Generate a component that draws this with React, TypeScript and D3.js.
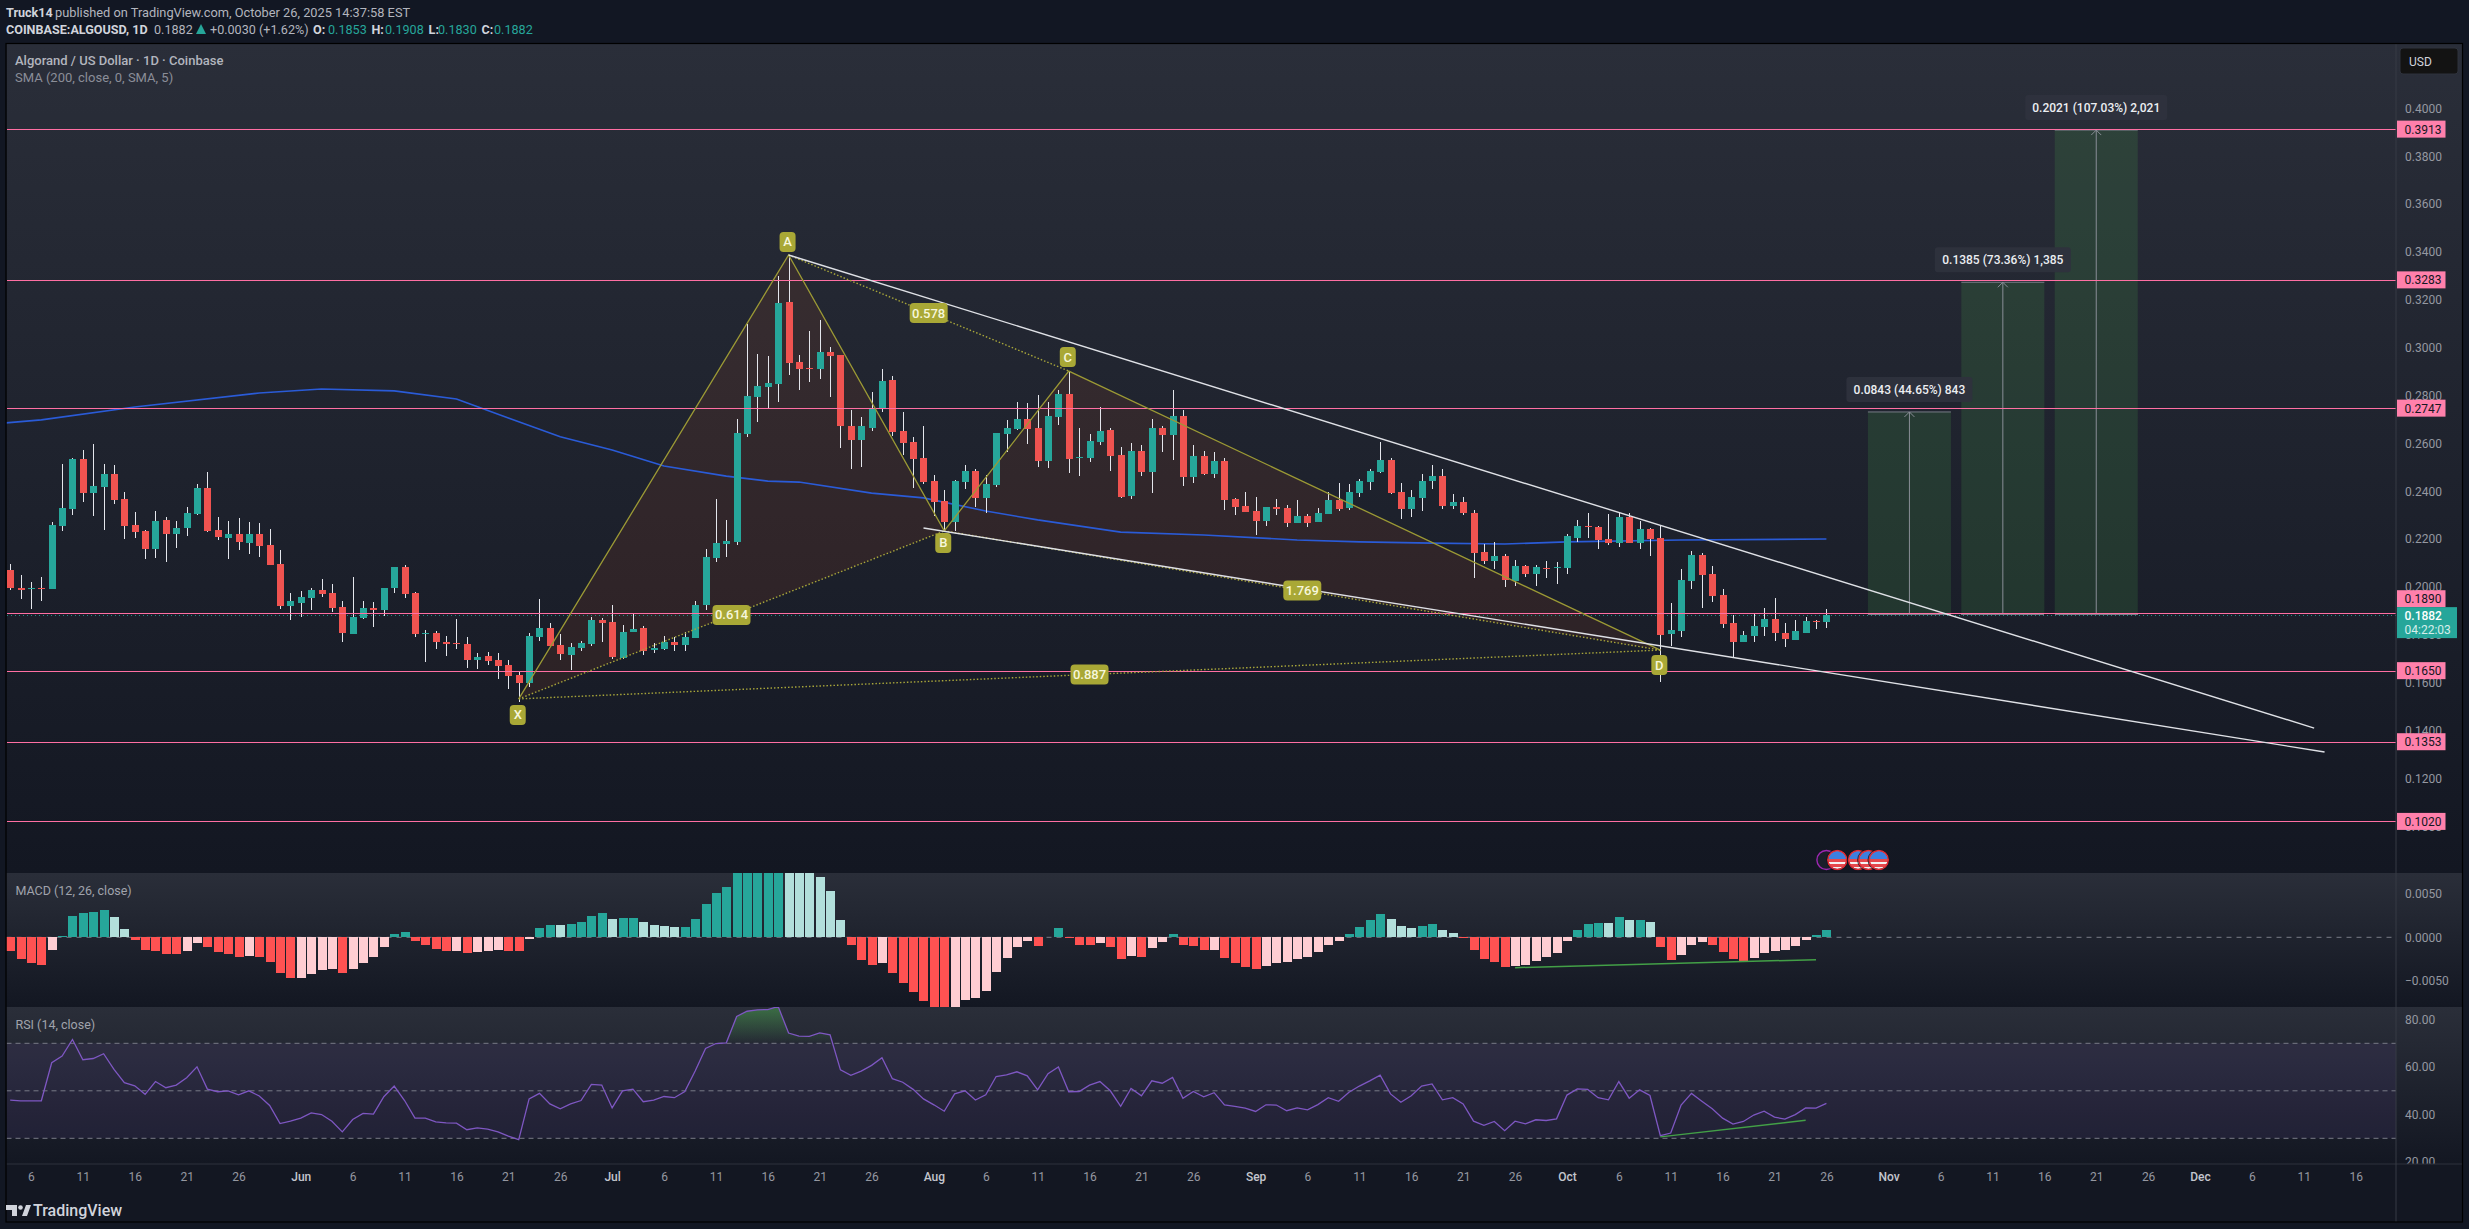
import React, { useEffect, useRef } from 'react';
import * as d3 from 'd3';

// daily candles, May 4 to Oct 26 2025
const opens = [
  .2071,.1996,.1991,.1995,.1991,.2254,.2325,.2534,.2392,.2417,
  .2472,.2367,.2259,.2234,.2158,.2279,.2221,.2246,.2305,.2413,
  .2238,.2204,.2221,.2183,.2221,.2175,.2096,.1920,.1933,.1954,
  .1987,.1974,.1916,.1803,.1870,.1912,.1903,.1995,.2083,.1974,
  .1803,.1807,.1770,.1765,.1761,.1694,.1711,.1694,.1674,.1632,
  .1598,.1791,.1828,.1757,.1715,.1745,.1761,.1862,.1853,.1703,
  .1811,.1828,.1736,.1740,.1770,.1757,.1786,.1924,.2121,.2179,
  .2188,.2639,.2794,.2835,.2848,.3191,.2940,.2915,.2911,.2982,
  .2969,.2672,.2614,.2664,.2743,.2865,.2652,.2606,.2539,.2443,
  .2359,.2271,.2438,.2484,.2372,.2426,.2639,.2660,.2702,.2664,
  .2526,.2710,.2806,.2539,.2539,.2606,.2656,.2551,.2380,.2568,
  .2480,.2664,.2635,.2714,.2459,.2547,.2472,.2526,.2367,.2338,
  .2317,.2275,.2334,.2330,.2267,.2296,.2271,.2305,.2363,.2330,
  .2393,.2438,.2480,.2530,.2397,.2325,.2372,.2443,.2463,.2338,
  .2355,.2309,.2146,.2108,.2129,.2025,.2087,.2054,.2079,.2079,
  .2079,.2204,.2255,.2250,.2200,.2183,.2292,.2183,.2242,.2204,
  .1803,.1816,.2025,.2133,.2054,.1966,.1849,.1770,.1795,.1833,
  .1866,.1807,.1778,.1807,.1857,.1853,
];
const highs = [
  .2096,.2050,.2020,.2041,.2271,.2514,.2539,.2572,.2597,.2514,
  .2509,.2397,.2313,.2238,.2317,.2292,.2275,.2334,.2430,.2480,
  .2292,.2275,.2288,.2271,.2267,.2242,.2154,.1974,.1983,.1995,
  .2033,.2012,.1941,.2041,.1941,.1937,.1996,.2083,.2091,.1979,
  .1820,.1816,.1795,.1866,.1791,.1724,.1728,.1724,.1694,.1648,
  .1807,.1949,.1849,.1803,.1765,.1774,.1874,.1870,.1924,.1841,
  .1887,.1837,.1765,.1795,.1791,.1811,.1941,.2158,.2367,.2279,
  .2702,.3099,.2973,.2965,.3299,.3387,.2969,.3069,.3115,.3003,
  .2969,.2739,.2710,.2814,.2911,.2881,.2731,.2626,.2672,.2468,
  .2405,.2447,.2510,.2493,.2468,.2643,.2697,.2773,.2768,.2802,
  .2773,.2823,.2902,.2664,.2639,.2752,.2664,.2585,.2601,.2593,
  .2702,.2672,.2823,.2739,.2593,.2568,.2564,.2539,.2372,.2397,
  .2376,.2334,.2367,.2342,.2363,.2305,.2330,.2397,.2434,.2430,
  .2451,.2493,.2605,.2539,.2434,.2405,.2472,.2510,.2493,.2388,
  .2376,.2321,.2179,.2188,.2137,.2112,.2091,.2091,.2108,.2104,
  .2221,.2280,.2309,.2255,.2305,.2313,.2309,.2275,.2246,.2255,
  .1933,.2075,.2150,.2142,.2087,.1991,.1883,.1816,.1887,.1912,
  .1954,.1849,.1862,.1874,.1862,.1908,
];
const lows = [
  .1987,.1949,.1908,.1941,.1991,.2234,.2300,.2355,.2296,.2238,
  .2346,.2200,.2204,.2117,.2121,.2104,.2162,.2213,.2300,.2229,
  .2196,.2117,.2154,.2137,.2125,.2091,.1908,.1862,.1874,.1903,
  .1958,.1895,.1770,.1803,.1866,.1832,.1878,.1974,.1954,.1791,
  .1686,.1740,.1711,.1740,.1661,.1657,.1674,.1615,.1573,.1519,
  .1582,.1774,.1753,.1694,.1653,.1732,.1753,.1770,.1699,.1699,
  .1811,.1715,.1724,.1736,.1732,.1732,.1786,.1903,.2104,.2125,
  .2175,.2628,.2689,.2743,.2773,.2886,.2823,.2856,.2869,.2794,
  .2580,.2493,.2501,.2652,.2731,.2631,.2551,.2413,.2430,.2296,
  .2234,.2234,.2409,.2334,.2309,.2418,.2564,.2656,.2597,.2501,
  .2497,.2677,.2476,.2463,.2522,.2593,.2484,.2372,.2367,.2463,
  .2392,.2564,.2530,.2422,.2434,.2468,.2455,.2321,.2301,.2313,
  .2217,.2254,.2301,.2250,.2267,.2250,.2271,.2305,.2317,.2321,
  .2376,.2405,.2476,.2388,.2284,.2292,.2317,.2409,.2325,.2325,
  .2301,.2037,.2096,.2075,.1999,.2004,.2041,.2004,.2037,.2012,
  .2054,.2188,.2204,.2158,.2175,.2167,.2183,.2158,.2129,.1603,
  .1753,.1791,.1991,.1912,.1937,.1828,.1703,.1770,.1770,.1795,
  .1774,.1749,.1778,.1807,.1824,.1830,
];
const closes = [
  .1995,.1987,.1994,.1991,.2259,.2330,.2534,.2392,.2422,.2472,
  .2363,.2254,.2229,.2158,.2275,.2221,.2246,.2309,.2413,.2234,
  .2208,.2221,.2188,.2221,.2171,.2091,.1920,.1941,.1958,.1987,
  .1970,.1912,.1807,.1874,.1912,.1903,.1996,.2083,.1970,.1803,
  .1807,.1770,.1761,.1761,.1694,.1707,.1690,.1669,.1628,.1598,
  .1795,.1828,.1753,.1720,.1749,.1765,.1862,.1849,.1707,.1811,
  .1824,.1732,.1745,.1770,.1757,.1791,.1924,.2125,.2183,.2192,
  .2643,.2798,.2840,.2852,.3186,.2936,.2911,.2911,.2982,.2965,
  .2672,.2614,.2672,.2748,.2860,.2647,.2601,.2534,.2438,.2355,
  .2271,.2443,.2484,.2372,.2430,.2643,.2664,.2702,.2660,.2526,
  .2714,.2806,.2534,.2543,.2610,.2652,.2547,.2376,.2568,.2480,
  .2664,.2635,.2714,.2459,.2547,.2472,.2526,.2363,.2334,.2313,
  .2275,.2334,.2325,.2267,.2296,.2267,.2309,.2363,.2325,.2397,
  .2443,.2484,.2530,.2393,.2325,.2376,.2443,.2463,.2338,.2355,
  .2309,.2142,.2108,.2129,.2029,.2087,.2054,.2083,.2075,.2083,
  .2213,.2255,.2250,.2196,.2183,.2292,.2183,.2242,.2200,.1799,
  .1820,.2029,.2133,.2050,.1962,.1845,.1770,.1799,.1837,.1866,
  .1807,.1782,.1816,.1857,.1853,.1882,
];

const macdHist = [
  -.00153,-.00249,-.00295,-.00318,-.00146,.00015,.00245,.0028,.00291,.00314,
  .00234,.00096,-.00031,-.00146,-.00157,-.00192,-.00195,-.00157,-.00065,-.00111,
  -.00169,-.00192,-.00226,-.00214,-.00226,-.00283,-.0041,-.00467,-.00467,-.00421,
  -.00375,-.00364,-.0041,-.00364,-.00295,-.00226,-.00111,.00038,.00061,-.00042,
  -.00088,-.00134,-.00157,-.00157,-.0018,-.00169,-.00157,-.00146,-.00157,-.00161,
  -.00019,.00107,.00142,.00142,.00153,.00176,.00245,.0028,.00211,.00222,
  .00226,.00176,.00142,.0013,.00119,.00123,.00211,.00383,.00509,.00578,
  .00766,.00804,.00823,.00835,.00843,.00823,.00797,.00758,.00693,.00532,
  .00199,-.00088,-.0026,-.00318,-.00295,-.0041,-.00525,-.00628,-.00732,-.00843,
  -.00889,-.00835,-.0072,-.00697,-.00617,-.00398,-.00237,-.00111,-.00042,-.001,
  .00004,.00107,-.00008,-.00088,-.00092,-.00065,-.00111,-.00249,-.00214,-.00226,
  -.00123,-.00054,.00038,-.00088,-.001,-.00146,-.00146,-.00237,-.00295,-.00341,
  -.00364,-.00329,-.00295,-.00283,-.00249,-.00226,-.00169,-.00088,-.00042,.00038,
  .00119,.00199,.00268,.00211,.0013,.00107,.0013,.00153,.00084,.0005,
  -.00008,-.00146,-.00249,-.00283,-.00341,-.00329,-.00318,-.00272,-.00226,-.0018,
  -.00042,.00084,.00153,.00165,.00165,.00234,.00199,.00203,.00176,-.00111,
  -.0026,-.00203,-.00088,-.00054,-.00088,-.00169,-.00249,-.00272,-.00237,-.0018,
  -.00157,-.00146,-.001,-.00031,.00027,.00084,
];

const rsiValues = [
  46.1,45.8,45.8,45.8,61.8,64.6,71.6,63.1,63.6,65.6,
  59.0,53.4,52.1,48.5,53.9,51.3,52.4,55.5,60.1,50.7,
  49.6,50.0,48.3,50.0,47.8,43.8,36.2,37.2,38.5,40.7,
  40.0,37.2,32.7,37.9,40.5,40.2,47.5,52.0,45.9,38.5,
  38.5,36.9,36.5,36.4,33.6,34.4,33.9,32.7,30.9,29.4,
  46.6,48.9,44.5,42.4,44.5,45.9,52.7,52.4,42.8,50.0,
  50.7,45.4,46.1,47.6,47.1,49.7,58.3,67.8,69.9,70.2,
  81.3,83.5,84.1,84.2,85.5,74.3,73.0,72.9,74.4,73.6,
  58.8,56.5,58.3,60.7,63.9,55.1,53.6,50.6,46.6,44.1,
  41.4,48.7,50.0,46.1,48.3,56.0,56.7,58.0,56.3,50.4,
  57.2,60.0,49.6,49.7,52.4,53.9,50.0,43.5,51.0,47.9,
  54.2,53.2,55.6,46.8,49.7,47.5,49.2,44.1,43.4,42.7,
  41.3,44.1,44.0,41.6,42.8,42.0,44.2,47.1,45.6,49.4,
  52.0,54.2,56.6,48.7,45.2,47.9,52.0,52.9,46.2,47.1,
  44.5,37.2,35.5,37.1,33.2,37.2,36.1,37.8,37.5,38.2,
  48.2,50.8,50.6,47.1,46.2,53.9,46.9,50.4,48.0,31.1,
  32.2,44.0,48.9,45.6,42.4,38.5,36.0,37.1,39.8,41.4,
  38.9,38.1,40.0,42.8,42.7,44.7,
];

// SMA 200 read at a number of days along the line
const smaDays = [-1,3,12,24,30,37,43,48,53,58,63,69,73,76,83,88,94,99,107,115,124,130,137,144,150,161,175];
const smaValues = [.2683,.2698,.2752,.2810,.2827,.2819,.2785,.2706,.2627,.2572,.2505,.2463,.2442,.2438,.2392,.2372,.2317,.2280,.2229,.2217,.2196,.2188,.2183,.2179,.2188,.2196,.2200];

const levels = [0.3913, 0.3283, 0.2747, 0.1890, 0.1650, 0.1353, 0.1020];
const priceTicks = [.4,.38,.36,.34,.32,.3,.28,.26,.24,.22,.2,.18,.16,.14,.12,.1];
const macdTicks = [0.005, 0, -0.005];
const rsiTicks = [80, 60, 40, 20];
const rsiBands = [70, 50, 30];

const dayTicks = [2,7,12,17,22,28,33,38,43,48,53,58,63,68,73,78,83,89,94,99,104,109,114,120,125,130,135,140,145,150,155,160,165,170,175,181,186,191,196,201,206,211,216,221,226];
const dayLabels = ['6','11','16','21','26','Jun','6','11','16','21','26','Jul','6','11','16','21','26','Aug','6','11','16','21','26','Sep','6','11','16','21','26','Oct','6','11','16','21','26','Nov','6','11','16','21','26','Dec','6','11','16'];
const monthLabels = ['Jun', 'Jul', 'Aug', 'Sep', 'Oct', 'Nov', 'Dec'];

// XABCD pattern
const patternNames = ['X', 'A', 'B', 'C', 'D'];
const patternDays = [49, 75, 90, 102, 159];
const patternPrices = [.1532, .3387, .2234, .2902, .1736];

// wedge trend lines
const upperLineDays = [75, 222];
const upperLinePrices = [.3387, .1410];
const lowerLineDays = [88, 223];
const lowerLinePrices = [.2246, .1310];

// long position boxes
const entryPrice = 0.1888;
const boxFrom = [179, 188, 197];
const boxTo = [187, 196, 205];
const boxTargets = [.2731, .3273, .3909];
const boxLabels = ['0.0843 (44.65%) 843', '0.1385 (73.36%) 1,385', '0.2021 (107.03%) 2,021'];

const macdDivDays = [145, 174];
const macdDivValues = [-.00349, -.00257];
const rsiDivDays = [159, 173];
const rsiDivValues = [30.6, 37.6];

const newsDays = [175, 176, 178, 179, 180];

const FONT = 'Roboto, sans-serif';
const TEAL = '#26a69a';
const RED = '#ef5350';
const PINK = '#ff6fa3';

const App: React.FC = () => {
  const ref = useRef<SVGSVGElement | null>(null);

  useEffect(() => {
    const width = 2469;
    const height = 1229;
    const left = 6.5;
    const axisX = 2396;
    const rightEdge = 2462;

    const svg = d3.select(ref.current)
      .attr('width', width)
      .attr('height', height)
      .style('display', 'block')
      .style('position', 'absolute')
      .style('left', 0)
      .style('top', 0)
      .style('background', '#121723')
      .style('font-family', FONT);
    svg.selectAll('*').remove();

    const defs = svg.append('defs');

    const x = d3.scaleLinear().domain([0, 175]).range([10.2, 1826.4]);
    const y = d3.scaleLinear().domain([0.4, 0.102]).range([108.3, 821.4]);
    const macdY = d3.scaleLinear().domain([0.005, -0.005]).range([893.8, 980.8]);
    const rsiY = d3.scaleLinear().domain([70, 30]).range([1043.3, 1138.3]);

    // panes: [top, bottom]
    const panes = [[44, 873], [873, 1007], [1007, 1164]];
    panes.forEach(([top, bottom], i) => {
      const g = defs.append('linearGradient')
        .attr('id', `paneBg${i}`)
        .attr('gradientUnits', 'userSpaceOnUse')
        .attr('x1', 0).attr('x2', 0).attr('y1', top).attr('y2', bottom);
      g.append('stop').attr('offset', 0).attr('stop-color', '#2a2e39');
      g.append('stop').attr('offset', 1).attr('stop-color', '#131722');
      svg.append('rect')
        .attr('x', left).attr('y', top)
        .attr('width', rightEdge - left).attr('height', bottom - top)
        .attr('fill', `url(#paneBg${i})`);
      defs.append('clipPath').attr('id', `paneClip${i}`)
        .append('rect')
        .attr('x', left).attr('y', top)
        .attr('width', axisX - left).attr('height', bottom - top);
    });

    // ---- main pane ----
    const main = svg.append('g').attr('clip-path', 'url(#paneClip0)');

    const pt = (i: number) => [x(patternDays[i]), y(patternPrices[i])] as [number, number];
    const line = d3.line();

    // pattern fill under the candles
    [[0, 1, 2], [2, 3, 4]].forEach(tri => {
      main.append('path')
        .attr('d', line(tri.map(pt)) + 'Z')
        .attr('fill', 'rgba(230,90,30,0.1)');
    });

    // SMA
    const smaLine = d3.line<number>()
      .x(d => x(smaDays[d]))
      .y(d => y(smaValues[d]));
    main.append('path')
      .datum(d3.range(smaDays.length))
      .attr('d', smaLine)
      .attr('fill', 'none')
      .attr('stroke', '#2a5bd7')
      .attr('stroke-width', 1.6);

    // position boxes
    boxTargets.forEach((target, i) => {
      const x0 = x(boxFrom[i]);
      const x1 = x(boxTo[i]);
      main.append('rect')
        .attr('x', x0).attr('y', y(target))
        .attr('width', x1 - x0).attr('height', y(entryPrice) - y(target))
        .attr('fill', 'rgba(76,175,80,0.17)');
      main.append('line')
        .attr('x1', x0).attr('x2', x1)
        .attr('y1', y(target)).attr('y2', y(target))
        .attr('stroke', '#787b86');
      const mid = (x0 + x1) / 2;
      main.append('line')
        .attr('x1', mid).attr('x2', mid)
        .attr('y1', y(target)).attr('y2', y(entryPrice))
        .attr('stroke', '#8a8e97');
      main.append('path')
        .attr('d', `M${mid - 5},${y(target) + 5}L${mid},${y(target)}L${mid + 5},${y(target) + 5}`)
        .attr('fill', 'none')
        .attr('stroke', '#8a8e97');
    });

    // last price dotted line
    const lastPriceY = Math.round(y(closes[closes.length - 1])) + 0.5;
    main.append('line')
      .attr('x1', left).attr('x2', axisX)
      .attr('y1', lastPriceY).attr('y2', lastPriceY)
      .attr('stroke', TEAL)
      .attr('stroke-opacity', 0.8)
      .attr('stroke-dasharray', '1 3')
      .attr('shape-rendering', 'crispEdges');

    // candles
    const candles = main.append('g')
      .attr('shape-rendering', 'crispEdges');
    opens.forEach((open, i) => {
      const close = closes[i];
      const cx = Math.round(x(i));
      candles.append('line')
        .attr('x1', cx + 0.5).attr('x2', cx + 0.5)
        .attr('y1', y(highs[i])).attr('y2', y(lows[i]))
        .attr('stroke', '#e4e6ec');
      candles.append('rect')
        .attr('x', cx - 3).attr('width', 7)
        .attr('y', y(Math.max(open, close)))
        .attr('height', Math.max(1, Math.abs(y(open) - y(close))))
        .attr('fill', close >= open ? TEAL : RED);
    });

    // horizontal levels, one pixel and crisp
    levels.forEach(level => {
      main.append('line')
        .attr('x1', left).attr('x2', axisX)
        .attr('y1', Math.round(y(level)) + 0.5).attr('y2', Math.round(y(level)) + 0.5)
        .attr('stroke', PINK)
        .attr('shape-rendering', 'crispEdges');
    });

    // bottom edge of the boxes sits over the level line
    boxFrom.forEach((from, i) => {
      main.append('line')
        .attr('x1', x(from)).attr('x2', x(boxTo[i]))
        .attr('y1', Math.round(y(entryPrice)) + 0.5).attr('y2', Math.round(y(entryPrice)) + 0.5)
        .attr('stroke', '#787b86')
        .attr('shape-rendering', 'crispEdges');
    });

    // pattern legs
    main.append('path')
      .attr('d', line([0, 1, 2, 3, 4].map(pt)))
      .attr('fill', 'none')
      .attr('stroke', '#9c9a35')
      .attr('stroke-width', 1.3);
    [[0, 2], [1, 3], [2, 4], [0, 4]].forEach(([a, b]) => {
      main.append('path')
        .attr('d', line([pt(a), pt(b)]))
        .attr('stroke', '#a8a63a')
        .attr('stroke-width', 1.4)
        .attr('stroke-dasharray', '1.5 2');
    });

    // wedge
    [[upperLineDays, upperLinePrices], [lowerLineDays, lowerLinePrices]].forEach(([days, prices]) => {
      main.append('line')
        .attr('x1', x(days[0])).attr('x2', x(days[1]))
        .attr('y1', y(prices[0])).attr('y2', y(prices[1]))
        .attr('stroke', '#dfe1e6')
        .attr('stroke-width', 1.4);
    });

    // pattern labels
    const badge = (cx: number, cy: number, w: number, text: string) => {
      main.append('rect')
        .attr('x', cx - w / 2).attr('y', cy - 10)
        .attr('width', w).attr('height', 20)
        .attr('rx', 4)
        .attr('fill', '#a9a836');
      main.append('text')
        .attr('x', cx).attr('y', cy + 4.5)
        .attr('text-anchor', 'middle')
        .attr('font-size', 13)
        .attr('font-weight', 500)
        .attr('fill', '#f7f7dc')
        .text(text);
    };
    const labelOffsets = [16, -13, 12, -14, 15];
    patternNames.forEach((name, i) => {
      const [px, py] = pt(i);
      badge(px - 1, py + labelOffsets[i], 16, name);
    });
    const ratioLabels = [
      [0, 2, '0.614'], [1, 3, '0.578'], [2, 4, '1.769'], [0, 4, '0.887'],
    ] as [number, number, string][];
    ratioLabels.forEach(([a, b, text]) => {
      const [ax, ay] = pt(a);
      const [bx, by] = pt(b);
      badge((ax + bx) / 2, (ay + by) / 2, 38, text);
    });

    // box labels
    boxLabels.forEach((text, i) => {
      const mid = (x(boxFrom[i]) + x(boxTo[i])) / 2;
      const top = y(boxTargets[i]);
      const w = [126, 136, 142][i];
      main.append('rect')
        .attr('x', mid - w / 2).attr('y', top - 35)
        .attr('width', w).attr('height', 25)
        .attr('rx', 3)
        .attr('fill', '#2e323d')
        .attr('fill-opacity', 0.95);
      main.append('text')
        .attr('x', mid).attr('y', top - 18)
        .attr('text-anchor', 'middle')
        .attr('font-size', 12)
        .attr('font-weight', 500)
        .attr('fill', '#eceef2')
        .text(text);
    });

    // news icons
    defs.append('clipPath').attr('id', 'flagClip')
      .append('circle').attr('r', 9);
    newsDays.forEach((day, i) => {
      const g = svg.append('g')
        .attr('transform', `translate(${x(day) + (i === 0 ? 0 : 0.5)},860)`);
      if (i === 0) {
        g.append('circle').attr('r', 9.5)
          .attr('fill', '#1a1e2a')
          .attr('stroke', '#9c27b0').attr('stroke-width', 1.4);
        return;
      }
      const flag = g.append('g').attr('clip-path', 'url(#flagClip)');
      flag.append('rect').attr('x', -9).attr('y', -9).attr('width', 18).attr('height', 18).attr('fill', '#f4f4f4');
      [-1, 4].forEach(sy => {
        flag.append('rect').attr('x', -9).attr('y', sy).attr('width', 18).attr('height', 3).attr('fill', '#e5484d');
      });
      flag.append('rect').attr('x', -9).attr('y', -9).attr('width', 18).attr('height', 8).attr('fill', '#3d7fe0');
      g.append('circle').attr('r', 9.5)
        .attr('fill', 'none')
        .attr('stroke', '#e02b34').attr('stroke-width', 1.6);
      g.append('circle').attr('r', 10.8)
        .attr('fill', 'none')
        .attr('stroke', '#131722').attr('stroke-width', 0.8);
    });

    // ---- MACD pane ----
    const macd = svg.append('g').attr('clip-path', 'url(#paneClip1)');
    macd.append('line')
      .attr('x1', left).attr('x2', axisX)
      .attr('y1', macdY(0)).attr('y2', macdY(0))
      .attr('stroke', '#787b86')
      .attr('stroke-dasharray', '5 5');
    const barColor = (i: number) => {
      const v = macdHist[i];
      const prev = i > 0 ? macdHist[i - 1] : 0;
      if (v >= 0) return v > prev ? TEAL : '#b2dfdb';
      return v < prev ? '#ff5252' : '#ffcdd2';
    };
    macd.append('g')
      .attr('shape-rendering', 'crispEdges')
      .selectAll('rect')
      .data(macdHist)
      .join('rect')
      .attr('x', (d, i) => Math.round(x(i)) - 4)
      .attr('width', 9)
      .attr('y', d => macdY(Math.max(d, 0)))
      .attr('height', d => Math.abs(macdY(d) - macdY(0)))
      .attr('fill', (d, i) => barColor(i));
    macd.append('line')
      .attr('x1', x(macdDivDays[0])).attr('x2', x(macdDivDays[1]))
      .attr('y1', macdY(macdDivValues[0])).attr('y2', macdY(macdDivValues[1]))
      .attr('stroke', '#43a047')
      .attr('stroke-width', 1.5);

    // ---- RSI pane ----
    const rsi = svg.append('g').attr('clip-path', 'url(#paneClip2)');
    rsi.append('rect')
      .attr('x', left).attr('width', axisX - left)
      .attr('y', rsiY(70)).attr('height', rsiY(30) - rsiY(70))
      .attr('fill', 'rgba(126,87,194,0.1)');

    // overbought fill above 70
    defs.append('clipPath').attr('id', 'obClip')
      .append('rect')
      .attr('x', left).attr('y', panes[2][0])
      .attr('width', axisX - left).attr('height', rsiY(70) - panes[2][0]);
    const obGrad = defs.append('linearGradient')
      .attr('id', 'obFill')
      .attr('gradientUnits', 'userSpaceOnUse')
      .attr('x1', 0).attr('x2', 0).attr('y1', panes[2][0]).attr('y2', rsiY(70));
    obGrad.append('stop').attr('offset', 0).attr('stop-color', '#4caf50').attr('stop-opacity', 0.5);
    obGrad.append('stop').attr('offset', 1).attr('stop-color', '#4caf50').attr('stop-opacity', 0);
    const obArea = d3.area<number>()
      .x((d, i) => x(i))
      .y0(rsiY(70))
      .y1(d => rsiY(d));
    rsi.append('g').attr('clip-path', 'url(#obClip)')
      .append('path')
      .datum(rsiValues)
      .attr('d', obArea)
      .attr('fill', 'url(#obFill)');

    rsiBands.forEach(band => {
      rsi.append('line')
        .attr('x1', left).attr('x2', axisX)
        .attr('y1', rsiY(band)).attr('y2', rsiY(band))
        .attr('stroke', '#787b86')
        .attr('stroke-dasharray', '5 4');
    });
    const rsiLine = d3.line<number>()
      .x((d, i) => x(i))
      .y(d => rsiY(d));
    rsi.append('path')
      .datum(rsiValues)
      .attr('d', rsiLine)
      .attr('fill', 'none')
      .attr('stroke', '#7e57c2')
      .attr('stroke-width', 1.3);
    rsi.append('line')
      .attr('x1', x(rsiDivDays[0])).attr('x2', x(rsiDivDays[1]))
      .attr('y1', rsiY(rsiDivValues[0])).attr('y2', rsiY(rsiDivValues[1]))
      .attr('stroke', '#43a047')
      .attr('stroke-width', 1.5);

    // ---- right axes ----
    const styleAxis = (g: d3.Selection<SVGGElement, unknown, null, undefined>) => {
      g.select('.domain').remove();
      g.selectAll('text')
        .attr('font-family', FONT)
        .attr('font-size', 12)
        .attr('fill', '#9598a1');
    };
    svg.append('g')
      .attr('transform', `translate(${axisX},0)`)
      .call(d3.axisRight(y).tickValues(priceTicks).tickFormat(d3.format('.4f') as any).tickSize(0).tickPadding(9))
      .call(styleAxis);
    svg.append('g')
      .attr('transform', `translate(${axisX},0)`)
      .call(d3.axisRight(macdY).tickValues(macdTicks).tickFormat(d3.format('.4f') as any).tickSize(0).tickPadding(9))
      .call(styleAxis);
    svg.append('g')
      .attr('transform', `translate(${axisX},0)`)
      .call(d3.axisRight(rsiY).tickValues(rsiTicks).tickFormat(d3.format('.2f') as any).tickSize(0).tickPadding(9))
      .call(styleAxis);

    // ---- bottom time strip ----
    svg.append('rect')
      .attr('x', left).attr('y', 1164)
      .attr('width', rightEdge - left).attr('height', 58)
      .attr('fill', '#131722');
    const timeAxis = svg.append('g')
      .attr('transform', 'translate(0,1170)')
      .call(d3.axisBottom(x).tickValues(dayTicks).tickFormat((d, i) => dayLabels[i]).tickSize(0).tickPadding(2))
      .call(styleAxis);
    timeAxis.selectAll('text')
      .attr('fill', (d, i) => monthLabels.includes(dayLabels[i]) ? '#c3c6ce' : '#9598a1')
      .attr('font-weight', (d, i) => monthLabels.includes(dayLabels[i]) ? 500 : 400);

    // frame lines
    svg.append('line')
      .attr('x1', left).attr('x2', rightEdge).attr('y1', 1164).attr('y2', 1164)
      .attr('stroke', '#2e323d');
    svg.append('line')
      .attr('x1', axisX).attr('x2', axisX).attr('y1', 44).attr('y2', 1222)
      .attr('stroke', '#363a45');
    svg.append('rect')
      .attr('x', left - 0.5).attr('y', 43.5)
      .attr('width', rightEdge - left + 1).attr('height', 1222 - 43.5)
      .attr('fill', 'none')
      .attr('stroke', '#000')
      .attr('stroke-width', 1.2);

    // level tags on the axis; 0.1890 is pushed up above the last price tag
    const tagOffset = (level: number) => level === 0.1890 ? -14.5 : 0;
    levels.forEach(level => {
      const cy = y(level) + tagOffset(level);
      svg.append('rect')
        .attr('x', axisX + 1).attr('y', cy - 8.5)
        .attr('width', 48.5).attr('height', 17)
        .attr('fill', '#ff80ab');
      svg.append('text')
        .attr('x', axisX + 8.5).attr('y', cy + 4.5)
        .attr('font-size', 12)
        .attr('fill', '#131722')
        .text(d3.format('.4f')(level));
    });
    const lastY = y(closes[closes.length - 1]);
    svg.append('rect')
      .attr('x', axisX + 1).attr('y', lastY - 8)
      .attr('width', 60).attr('height', 31)
      .attr('fill', TEAL);
    svg.append('text')
      .attr('x', axisX + 8.5).attr('y', lastY + 5)
      .attr('font-size', 12)
      .attr('font-weight', 500)
      .attr('fill', '#fff')
      .text('0.1882');
    svg.append('text')
      .attr('x', axisX + 8.5).attr('y', lastY + 19)
      .attr('font-size', 12)
      .attr('fill', '#d5eeeb')
      .text('04:22:03');

    // USD button
    svg.append('rect')
      .attr('x', 2400).attr('y', 48)
      .attr('width', 58).attr('height', 26)
      .attr('rx', 3)
      .attr('fill', '#131313')
      .attr('stroke', '#2e323c');
    svg.append('text')
      .attr('x', 2409).attr('y', 65.5)
      .attr('font-size', 12)
      .attr('fill', '#d1d4dc')
      .text('USD');

    // ---- texts ----
    const label = (tx: number, ty: number, text: string, size: number, fill: string, weight = 400) => {
      svg.append('text')
        .attr('x', tx).attr('y', ty)
        .attr('font-size', size)
        .attr('font-weight', weight)
        .attr('fill', fill)
        .text(text);
    };
    label(6, 17, 'Truck14', 12.6, '#d1d4dc', 700);
    label(55, 17, 'published on TradingView.com, October 26, 2025 14:37:58 EST', 12.8, '#b2b5be');
    label(6, 34, 'COINBASE:ALGOUSD, 1D', 12.6, '#d1d4dc', 700);
    label(154, 34, '0.1882', 12.6, '#b2b5be');
    svg.append('path')
      .attr('d', 'M196,34L201,24L206,34Z')
      .attr('fill', TEAL);
    label(210, 34, '+0.0030 (+1.62%)', 12.6, '#b2b5be');
    const ohlcNames = ['O:', 'H:', 'L:', 'C:'];
    const ohlcValues = ['0.1853', '0.1908', '0.1830', '0.1882'];
    const ohlcX = [313, 371.4, 428.6, 481.6];
    const ohlcValueX = [328, 385, 438, 494];
    ohlcNames.forEach((name, i) => {
      label(ohlcX[i], 34, name, 12.6, '#d1d4dc', 700);
      label(ohlcValueX[i], 34, ohlcValues[i], 12.6, TEAL);
    });
    label(15, 65, 'Algorand / US Dollar · 1D · Coinbase', 13, '#b2b5be', 500);
    label(15, 82, 'SMA (200, close, 0, SMA, 5)', 13, '#8b8e98');
    label(15.5, 895, 'MACD (12, 26, close)', 12.5, '#a0a3ac');
    label(15.5, 1029, 'RSI (14, close)', 12.5, '#a0a3ac');

    // TradingView logo
    svg.append('path')
      .attr('d', 'M6,1205H17V1216H12V1210H6ZM22,1216L26,1205H31L27,1216Z')
      .attr('fill', '#d1d4dc');
    svg.append('circle')
      .attr('cx', 20.5).attr('cy', 1207.5).attr('r', 2.3)
      .attr('fill', '#d1d4dc');
    label(33, 1216, 'TradingView', 16, '#d1d4dc', 500);
  }, []);

  return <svg ref={ref}></svg>;
};

export default App;
